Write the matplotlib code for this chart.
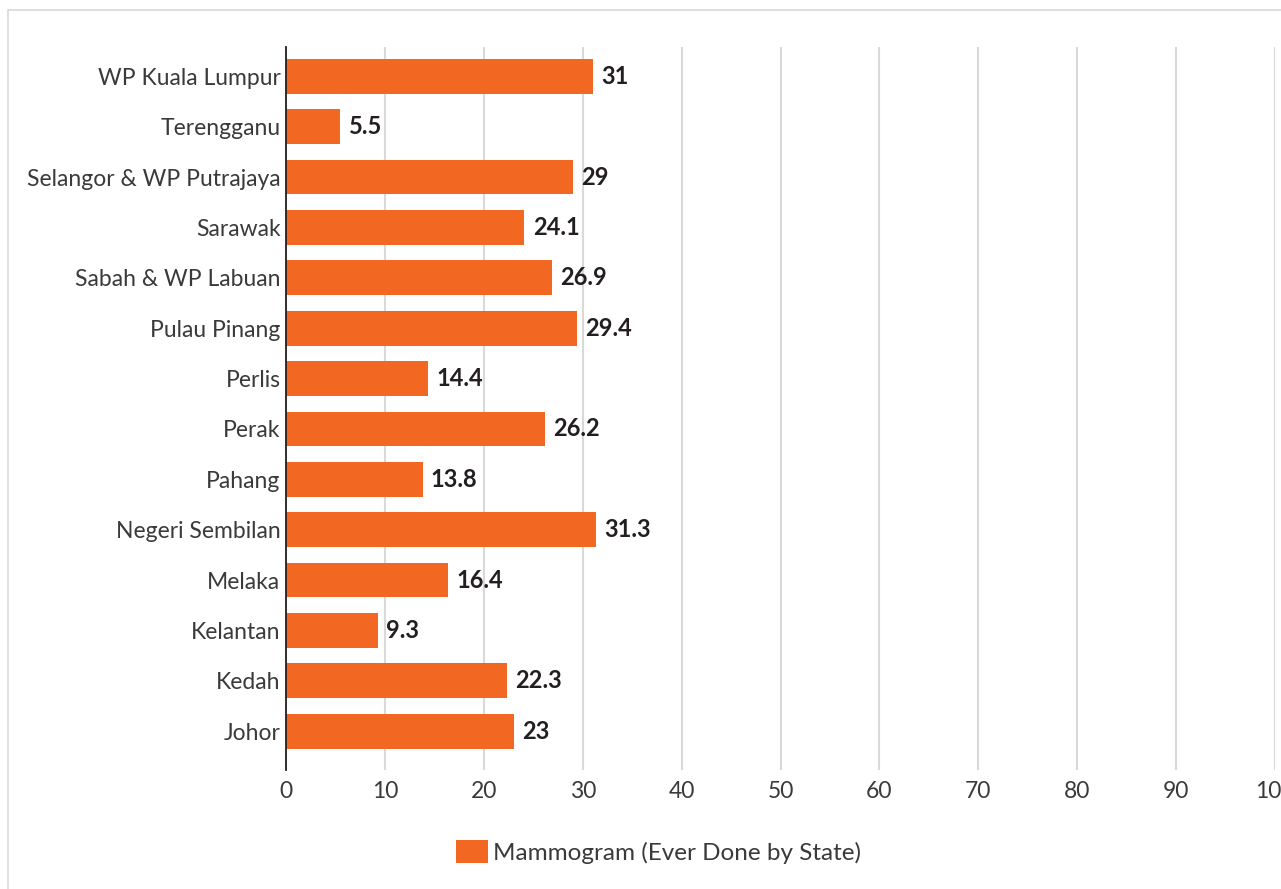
import matplotlib.pyplot as plt
from matplotlib.patches import Rectangle, Patch

# Dati (dall'alto verso il basso)
stati = ["WP Kuala Lumpur", "Terengganu", "Selangor & WP Putrajaya", "Sarawak",
         "Sabah & WP Labuan", "Pulau Pinang", "Perlis", "Perak", "Pahang",
         "Negeri Sembilan", "Melaka", "Kelantan", "Kedah", "Johor"]
valori = [31, 5.5, 29, 24.1, 26.9, 29.4, 14.4, 26.2, 13.8, 31.3, 16.4, 9.3, 22.3, 23]
etichette = ["31", "5.5", "29", "24.1", "26.9", "29.4", "14.4", "26.2", "13.8",
             "31.3", "16.4", "9.3", "22.3", "23"]
xticks = list(range(0, 101, 10))

ARANCIO = '#F26722'
TESTO = '#3a3a3a'
plt.rcParams['font.family'] = ['Lato', 'DejaVu Sans']

fig = plt.figure(figsize=(12.81, 8.89), dpi=100)
ax = fig.add_axes([0.2233, 0.1339, 0.772, 0.8132])

# cornice grigia
fig.patches.append(Rectangle((0.00625, -0.1), 1.2, 0.9888 + 0.1, transform=fig.transFigure,
                             fill=False, edgecolor='#d9d9d9', linewidth=1.2))

y = list(range(len(stati)))
ax.barh(y, valori, height=0.69, color=ARANCIO, zorder=3)

for yi, v, lab in zip(y, valori, etichette):
    ax.annotate(lab, (v, yi), xytext=(6, 0), textcoords='offset points',
                ha='left', va='center', fontsize=17, fontweight='bold', color='#231f20')

ax.set_xlim(0, 100)
ax.set_ylim(13.77, -0.58)
ax.set_yticks(y)
ax.set_yticklabels(stati, fontsize=16.5)
ax.set_xticks(xticks)
ax.tick_params(axis='both', length=0, labelcolor=TESTO)
ax.tick_params(axis='x', pad=8, labelsize=16.5)
ax.tick_params(axis='y', pad=4)

ax.grid(axis='x', color='#d9d9d9', linewidth=1.5, zorder=0)
ax.set_axisbelow(True)
for s in ['top', 'right', 'bottom']:
    ax.spines[s].set_visible(False)
ax.spines['left'].set_color('#231f20')
ax.spines['left'].set_linewidth(1.3)
ax.spines['left'].set_zorder(4)

fig.legend([Patch(facecolor=ARANCIO)], ['Mammogram (Ever Done by State)'],
           loc='center', bbox_to_anchor=(0.514, 0.042), frameon=False,
           fontsize=17.5, labelcolor=TESTO, handlelength=1.3, handleheight=1.07,
           handletextpad=0.2)

fig.savefig('out.png', dpi=100)
